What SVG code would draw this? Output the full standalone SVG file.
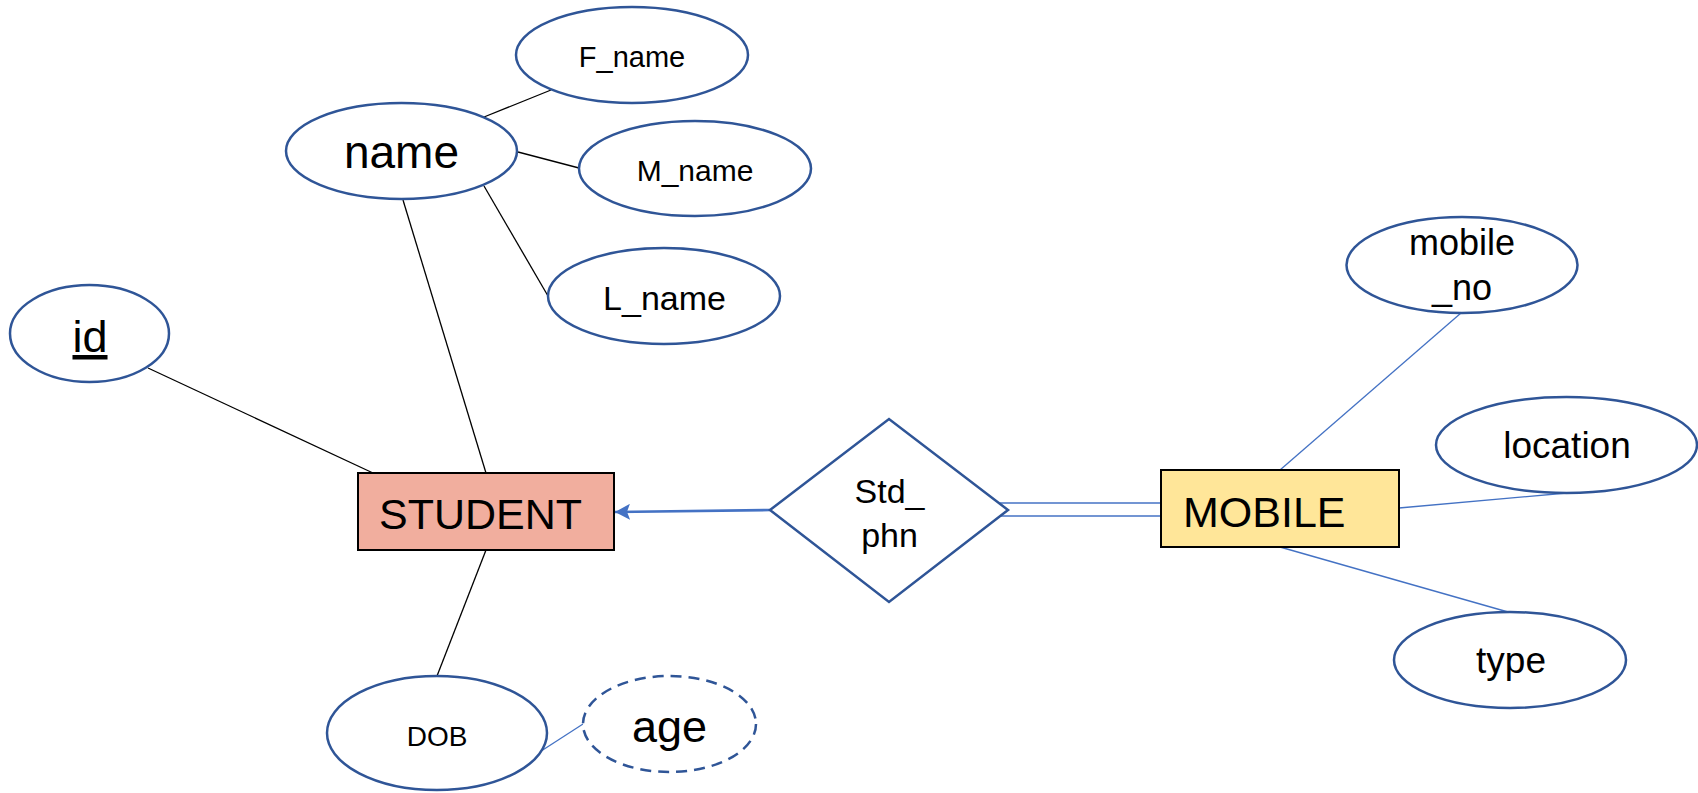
<svg xmlns="http://www.w3.org/2000/svg" width="1698" height="793" viewBox="0 0 1698 793">
<defs>
<style>
.attr{fill:#ffffff;stroke:#2F5597;stroke-width:2.5}
.dash{fill:#ffffff;stroke:#2F5597;stroke-width:2.5;stroke-dasharray:11 7}
.ent{stroke:#000000;stroke-width:2}
.blk{stroke:#000000;stroke-width:1.3;fill:none}
.blu{stroke:#4472C4;stroke-width:1.3;fill:none}
text{font-family:"Liberation Sans",Arial,sans-serif;fill:#000000;text-anchor:middle}
</style>
<marker id="arr" markerWidth="16" markerHeight="16" refX="15" refY="8" orient="auto" markerUnits="userSpaceOnUse" viewBox="0 0 16 16">
<path d="M0,0 L15,8 L0,16 L3,8 Z" fill="#4472C4"/>
</marker>
</defs>
<rect width="1698" height="793" fill="#ffffff"/>
<g id="connectors">
<line class="blk" x1="484" y1="117" x2="551" y2="90"/>
<line class="blk" x1="518" y1="152" x2="579" y2="168"/>
<line class="blk" x1="484" y1="186" x2="548" y2="296"/>
<line class="blk" x1="403" y1="200" x2="486" y2="473"/>
<line class="blk" x1="148" y1="368" x2="373" y2="473"/>
<line class="blk" x1="486" y1="550" x2="437" y2="676"/>
<line class="blu" x1="535" y1="755" x2="583" y2="724"/>
<line x1="770" y1="510" x2="615" y2="512" stroke="#4472C4" stroke-width="2.6" marker-end="url(#arr)"/>
<line class="blu" stroke-width="1.6" x1="1000" y1="503" x2="1161" y2="503"/>
<line class="blu" stroke-width="1.6" x1="1000" y1="516" x2="1161" y2="516"/>
<line class="blu" x1="1280" y1="470" x2="1461" y2="313"/>
<line class="blu" x1="1399" y1="508" x2="1567" y2="493"/>
<line class="blu" x1="1280" y1="547" x2="1508" y2="612"/>
</g>
<g id="F_name"><ellipse class="attr" cx="632" cy="55" rx="116" ry="48"/><text x="632" y="67" font-size="29">F_name</text></g>
<g id="name"><ellipse class="attr" cx="401.5" cy="151" rx="115.5" ry="48"/><text x="401.5" y="168" font-size="46">name</text></g>
<g id="M_name"><ellipse class="attr" cx="695" cy="168.5" rx="116" ry="47.5"/><text x="695" y="181" font-size="30">M_name</text></g>
<g id="L_name"><ellipse class="attr" cx="664" cy="296" rx="116" ry="48"/><text x="664.5" y="310" font-size="34">L_name</text></g>
<g id="id"><ellipse class="attr" cx="89.5" cy="333.5" rx="79.5" ry="48.5"/><text x="90" y="352" font-size="45" text-decoration="underline">id</text></g>
<g id="STUDENT"><rect class="ent" x="358" y="473" width="256" height="77" fill="#F1AE9E"/><text x="379" y="529" font-size="43" style="text-anchor:start">STUDENT</text></g>
<g id="DOB"><ellipse class="attr" cx="437" cy="733" rx="110" ry="57"/><text x="437" y="746" font-size="28">DOB</text></g>
<g id="age"><ellipse class="dash" cx="669.5" cy="724" rx="86.5" ry="48"/><text x="669.5" y="742" font-size="45">age</text></g>
<g id="Std_phn"><polygon points="770,510 889,419 1008,510 889,602" fill="#ffffff" stroke="#2F5597" stroke-width="2.5"/><text x="889.5" y="503" font-size="34">Std_</text><text x="889.5" y="547" font-size="34">phn</text></g>
<g id="MOBILE"><rect class="ent" x="1161" y="470" width="238" height="77" fill="#FFE699"/><text x="1183" y="527" font-size="43" style="text-anchor:start">MOBILE</text></g>
<g id="mobile_no"><ellipse class="attr" cx="1462" cy="265" rx="115.5" ry="48"/><text x="1462" y="255" font-size="36">mobile</text><text x="1462" y="300" font-size="36">_no</text></g>
<g id="location"><ellipse class="attr" cx="1566.5" cy="445" rx="130.5" ry="48"/><text x="1567" y="458" font-size="37">location</text></g>
<g id="type"><ellipse class="attr" cx="1510" cy="660" rx="116" ry="48"/><text x="1511" y="673" font-size="37">type</text></g>
</svg>
